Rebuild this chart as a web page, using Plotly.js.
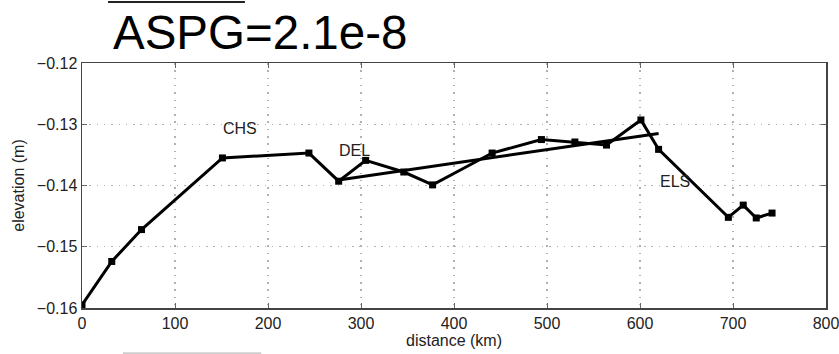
<!DOCTYPE html>
<html>
<head>
<meta charset="utf-8">
<script src="https://cdn.plot.ly/plotly-3.0.1.min.js"></script>
<style>html,body{margin:0;padding:0;background:#fff;}#chart{width:839px;height:354px;}</style>
</head>
<body>
<div id="chart"></div>
<script>
// Data
var distance = [0, 32, 64, 151, 244, 276, 305, 346, 377, 441, 494, 530, 564, 601, 620, 695, 711, 725, 742];
var elevation = [-0.1595, -0.1524, -0.1472, -0.1355, -0.1347, -0.1393, -0.1359, -0.1378, -0.1399, -0.1347, -0.1325, -0.1329, -0.1334, -0.1293, -0.1341, -0.1452, -0.1432, -0.1453, -0.1445];
var trendX = [276, 620];
var trendY = [-0.1391, -0.1315];
var labelText = ["CHS", "DEL", "ELS"];
var labelX = [170, 293, 638];
var labelY = [-0.1307, -0.1343, -0.1393];
var xTicks = [0, 100, 200, 300, 400, 500, 600, 700, 800];
var yTicks = [-0.16, -0.15, -0.14, -0.13, -0.12];
var titleText = "ASPG=2.1e-8";

var FONT = 'Liberation Sans, Arial, sans-serif';

var traces = [
  {x: distance, y: elevation, type: 'scatter', mode: 'lines+markers',
   line: {color: '#000', width: 3}, marker: {symbol: 'square', size: 7, color: '#000'},
   hoverinfo: 'skip', showlegend: false},
  {x: trendX, y: trendY, type: 'scatter', mode: 'lines',
   line: {color: '#000', width: 3}, hoverinfo: 'skip', showlegend: false}
];

var annotations = labelText.map(function(t, i){
  return {x: labelX[i], y: labelY[i], xref: 'x', yref: 'y', text: t, showarrow: false,
          font: {family: FONT, size: 16, color: '#222'}};
});

var axisCommon = {
  showline: true, linecolor: '#444', linewidth: 1.5, mirror: 'ticks',
  ticks: 'inside', ticklen: 5, tickcolor: '#666', tickwidth: 1,
  showgrid: true, gridcolor: '#b0b0b0', griddash: '1.5px,5.8px', gridwidth: 1.2,
  zeroline: false, ticklabeloverflow: 'allow',
  tickfont: {family: FONT, size: 16, color: '#222'}
};

var layout = {
  width: 839, height: 354,
  margin: {l: 82, r: 13, t: 63, b: 46},
  paper_bgcolor: '#fff', plot_bgcolor: '#fff',
  title: {text: titleText, xref: 'container', yref: 'container', x: 113/839, xanchor: 'left',
          y: 1 - 32/354, yanchor: 'middle',
          font: {family: FONT, size: 47.5, color: '#000'}},
  xaxis: Object.assign({}, axisCommon, {range: [0, 800], tickvals: xTicks,
          title: {text: 'distance (km)', standoff: 2, font: {family: FONT, size: 16, color: '#222'}}}),
  yaxis: Object.assign({}, axisCommon, {range: [-0.16, -0.12], tickvals: yTicks, tickformat: '.2f',
          title: {text: 'elevation (m)', standoff: 8, font: {family: FONT, size: 16, color: '#222'}}}),
  annotations: annotations,
  shapes: [
    {type: 'line', xref: 'paper', yref: 'paper', x0: 0.035, x1: 0.219, y0: 1.249, y1: 1.249,
     line: {color: '#222', width: 2}},
    {type: 'line', xref: 'paper', yref: 'paper', x0: 0.055, x1: 0.241, y0: -0.184, y1: -0.184,
     line: {color: '#aaa', width: 1}}
  ]
};

Plotly.newPlot('chart', traces, layout, {displayModeBar: false, staticPlot: true});
</script>
</body>
</html>
